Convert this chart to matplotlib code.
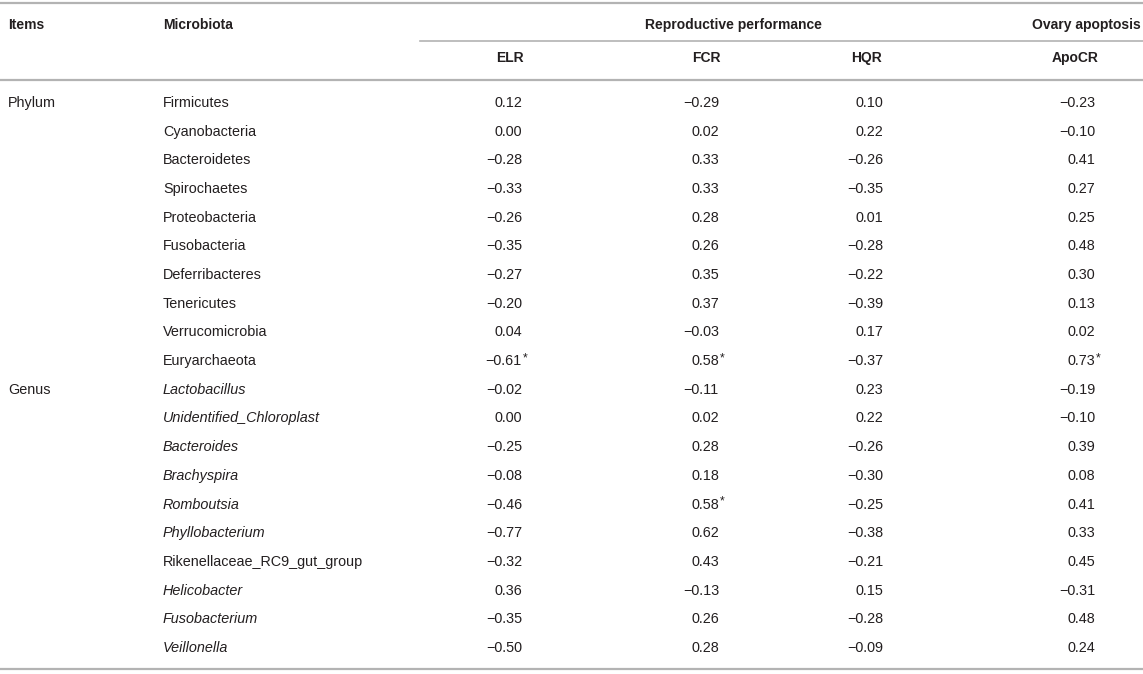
import matplotlib.pyplot as plt

# table contents
groups = ["Phylum"] * 10 + ["Genus"] * 10
microbiota = [
    "Firmicutes", "Cyanobacteria", "Bacteroidetes", "Spirochaetes", "Proteobacteria",
    "Fusobacteria", "Deferribacteres", "Tenericutes", "Verrucomicrobia", "Euryarchaeota",
    "Lactobacillus", "Unidentified_Chloroplast", "Bacteroides", "Brachyspira", "Romboutsia",
    "Phyllobacterium", "Rikenellaceae_RC9_gut_group", "Helicobacter", "Fusobacterium", "Veillonella",
]
italic = [False] * 10 + [True] * 6 + [False] + [True] * 3

elr = [0.12, 0.00, -0.28, -0.33, -0.26, -0.35, -0.27, -0.20, 0.04, -0.61,
       -0.02, 0.00, -0.25, -0.08, -0.46, -0.77, -0.32, 0.36, -0.35, -0.50]
fcr = [-0.29, 0.02, 0.33, 0.33, 0.28, 0.26, 0.35, 0.37, -0.03, 0.58,
       -0.11, 0.02, 0.28, 0.18, 0.58, 0.62, 0.43, -0.13, 0.26, 0.28]
hqr = [0.10, 0.22, -0.26, -0.35, 0.01, -0.28, -0.22, -0.39, 0.17, -0.37,
       0.23, 0.22, -0.26, -0.30, -0.25, -0.38, -0.21, 0.15, -0.28, -0.09]
apocr = [-0.23, -0.10, 0.41, 0.27, 0.25, 0.48, 0.30, 0.13, 0.02, 0.73,
         -0.19, -0.10, 0.39, 0.08, 0.41, 0.33, 0.45, -0.31, 0.48, 0.24]
# significant cells (row, column index)
signif = [(9, 0), (9, 1), (9, 3), (14, 1)]

col_names = ["ELR", "FCR", "HQR", "ApoCR"]

W, H = 1143, 674
fig = plt.figure(figsize=(W / 100, H / 100), dpi=100)
ax = fig.add_axes([0, 0, 1, 1])
ax.set_xlim(0, W)
ax.set_ylim(H, 0)
ax.axis("off")

font = "Liberation Sans"
fs = 10.4
fs_b = 10.0
tc = "#231f20"
lc = "#b3b3b3"

# rules
ax.plot([0, W], [3, 3], color=lc, lw=1.6)
ax.plot([420, W], [41, 41], color=lc, lw=1.2)
ax.plot([0, W], [80, 80], color=lc, lw=1.6)
ax.plot([0, W], [669, 669], color=lc, lw=1.6)

# headers
hkw = dict(fontsize=fs_b, family=font, weight="bold", color=tc, va="center")
ax.text(8, 25, "Items", ha="left", **hkw)
ax.text(163, 25, "Microbiota", ha="left", **hkw)
ax.text(733, 25, "Reproductive performance", ha="center", **hkw)
ax.text(1141, 25, "Ovary apoptosis", ha="right", **hkw)
head_x = [510, 706, 867, 1075]
for x, name in zip(head_x, col_names):
    ax.text(x, 58, name, ha="center", **hkw)

# body
right_x = [522, 719, 883, 1095]
y0, dy = 103, 28.68
kw = dict(fontsize=fs, family=font, color=tc, va="center")
cols = [elr, fcr, hqr, apocr]
for i in range(len(microbiota)):
    y = y0 + i * dy
    if i == 0 or groups[i] != groups[i - 1]:
        ax.text(8, y, groups[i], ha="left", **kw)
    ax.text(163, y, microbiota[i], ha="left",
            style="italic" if italic[i] else "normal", **kw)
    for j, vals in enumerate(cols):
        v = vals[i]
        s = f"{abs(v):.2f}"
        if v < 0:
            s = "\u2212" + s
        ax.text(right_x[j], y, s, ha="right", **kw)
        if (i, j) in signif:
            ax.text(right_x[j] + 0.5, y - 3, "*", ha="left", fontsize=fs - 1.5,
                    family=font, color=tc, va="center")

fig.savefig("out.png", dpi=100)
